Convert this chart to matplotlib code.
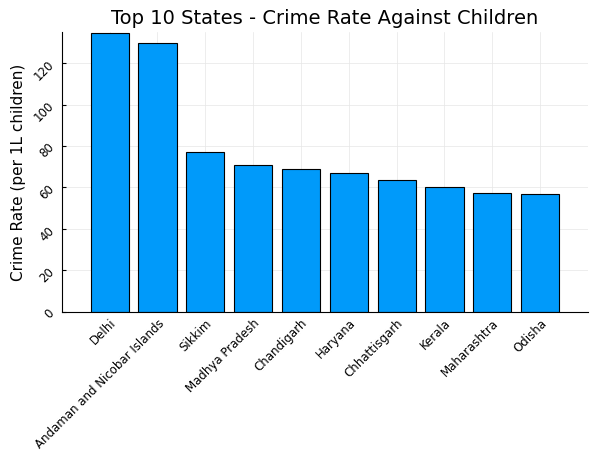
import matplotlib
matplotlib.use("Agg")
import matplotlib.pyplot as plt

states = ["Delhi", "Andaman and Nicobar Islands", "Sikkim", "Madhya Pradesh",
          "Chandigarh", "Haryana", "Chhattisgarh", "Kerala", "Maharashtra", "Odisha"]
rates = [134.5, 129.6, 77.1, 71.0, 68.9, 67.0, 63.4, 60.0, 57.3, 57.0]

fig = plt.figure(figsize=(6, 4.5), dpi=100)
ax = fig.add_axes([0.103, 0.307, 0.877, 0.622])

x = range(len(states))
ax.bar(x, rates, width=0.8, color="#009AFA", edgecolor="black", linewidth=0.8, zorder=2)
ax.set_xlim(-1.0, 10.0)
ax.set_ylim(0, 135)
ax.set_yticks(range(0, 121, 20))
ax.set_xticks(list(x))
ax.set_xticklabels(states, rotation=45, ha="right", rotation_mode="anchor", fontsize=8.5)
ax.tick_params(axis="y", labelrotation=45, labelsize=8.5)
ax.tick_params(direction="in", length=3)
ax.grid(True, color="#e6e6e6", linewidth=0.5, zorder=0)
ax.spines["top"].set_visible(False)
ax.spines["right"].set_visible(False)
ax.set_ylabel("Crime Rate (per 1L children)", fontsize=11)
ax.set_title("Top 10 States - Crime Rate Against Children", fontsize=14)

fig.savefig("out.png", dpi=100)
